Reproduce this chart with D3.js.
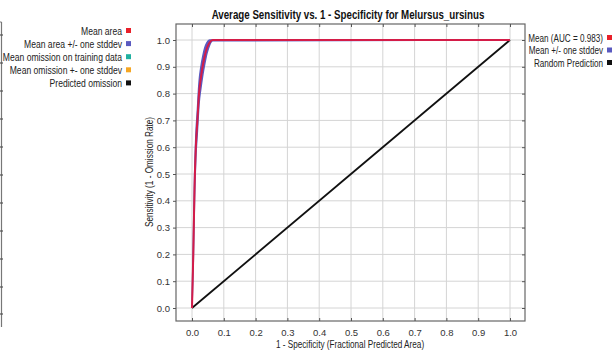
<!DOCTYPE html>
<html>
<head>
<meta charset="utf-8">
<script src="https://cdn.jsdelivr.net/npm/d3@7"></script>
<style>
  body { margin: 0; background: #fff; }
  svg { display: block; font-family: "Liberation Sans", Arial, sans-serif; }
</style>
</head>
<body>
<div id="chart"></div>
<script>
// ROC data
const fpr     = [0, 0.004, 0.008, 0.012, 0.017, 0.022, 0.028, 0.034, 0.040, 0.047, 0.055, 0.065, 1.0];
const meanTpr = [0, 0.20, 0.45, 0.60, 0.70, 0.80, 0.86, 0.905, 0.94, 0.97, 0.99, 1.0, 1.0];
const sdUpper = [0, 0.23, 0.49, 0.64, 0.74, 0.84, 0.90, 0.94, 0.97, 0.99, 1.0, 1.0, 1.0];
const sdLower = [0, 0.17, 0.41, 0.56, 0.66, 0.76, 0.82, 0.87, 0.91, 0.95, 0.98, 0.997, 1.0];
const randomX = [0, 1];
const randomY = [0, 1];
const tickValues = [0, 0.1, 0.2, 0.3, 0.4, 0.5, 0.6, 0.7, 0.8, 0.9, 1.0];

const leftLegend = [
    { label: "Mean area", color: "#e8202a" },
    { label: "Mean area +/- one stddev", color: "#5a5ac0" },
    { label: "Mean omission on training data", color: "#1fb0a0" },
    { label: "Mean omission +- one stddev", color: "#f5a623" },
    { label: "Predicted omission", color: "#111" }
];
const rightLegend = [
    { label: "Mean (AUC = 0.983)", color: "#e8202a" },
    { label: "Mean +/- one stddev", color: "#5a5ac0" },
    { label: "Random Prediction", color: "#111" }
];
// leftover edge of the neighbouring chart
const edgeTicks = [35, 63, 91, 119, 147, 175, 203, 231, 259, 287, 314];

const width = 615, height = 353;
const plot = { left: 176, right: 525, top: 24, bottom: 321 };
const narrow = 0.78; // squeeze text like the condensed font of the original

const svg = d3.select("#chart").append("svg")
    .attr("width", width)
    .attr("height", height);

const x = d3.scaleLinear().domain([0, 1]).range([192, 510]);
const y = d3.scaleLinear().domain([0, 1]).range([308, 40]);

// grid
svg.append("g").selectAll("line")
    .data(tickValues).enter().append("line")
    .attr("x1", d => x(d)).attr("x2", d => x(d))
    .attr("y1", plot.top).attr("y2", plot.bottom)
    .attr("stroke", "#d4d4d4").attr("stroke-width", 1);
svg.append("g").selectAll("line")
    .data(tickValues).enter().append("line")
    .attr("x1", plot.left).attr("x2", plot.right)
    .attr("y1", d => y(d)).attr("y2", d => y(d))
    .attr("stroke", "#d4d4d4").attr("stroke-width", 1);

// frame
svg.append("rect")
    .attr("x", plot.left).attr("y", plot.top)
    .attr("width", plot.right - plot.left).attr("height", plot.bottom - plot.top)
    .attr("fill", "none").attr("stroke", "#666").attr("stroke-width", 1.2);

// axes
svg.append("g")
    .attr("transform", `translate(0,${plot.bottom})`)
    .call(d3.axisBottom(x).tickValues(tickValues).tickFormat(d3.format(".1f")).tickSizeInner(-3).tickSizeOuter(0).tickPadding(8));
svg.append("g")
    .attr("transform", `translate(${plot.left},0)`)
    .call(d3.axisLeft(y).tickValues(tickValues).tickFormat(d3.format(".1f")).tickSize(3).tickSizeOuter(0).tickPadding(3));
svg.append("g")
    .attr("transform", `translate(0,${plot.top})`)
    .call(d3.axisTop(x).tickValues(tickValues).tickFormat("").tickSizeInner(-3).tickSizeOuter(0));
svg.append("g")
    .attr("transform", `translate(${plot.right},0)`)
    .call(d3.axisRight(y).tickValues(tickValues).tickFormat("").tickSizeInner(-3).tickSizeOuter(0));

svg.selectAll(".domain").remove();
svg.selectAll(".tick line").attr("stroke", "#555");
svg.selectAll(".tick text").attr("fill", "#333").style("font-size", "9.5px");

// random prediction
const pts = (xs, ys) => xs.map((d, i) => [d, ys[i]]);
const line = d3.line().x(d => x(d[0])).y(d => y(d[1]));

svg.append("path")
    .attr("d", line(pts(randomX, randomY)))
    .attr("fill", "none").attr("stroke", "#111").attr("stroke-width", 1.8);

// stddev band
const band = d3.area()
    .x(d => x(d[0]))
    .y0(d => y(d[1]))
    .y1(d => y(d[2]))
    .curve(d3.curveMonotoneX);
svg.append("path")
    .attr("d", band(fpr.map((d, i) => [d, sdLower[i], sdUpper[i]])))
    .attr("fill", "#5a5ac0").attr("stroke", "#5a5ac0").attr("stroke-width", 1.5);

// mean
svg.append("path")
    .attr("d", line.curve(d3.curveMonotoneX)(pts(fpr, meanTpr)))
    .attr("fill", "none").attr("stroke", "#d41c48").attr("stroke-width", 2);

// condensed text helper
function label(tx, ty, rot, txt, size, anchor, weight, squeeze) {
    const g = svg.append("g")
        .attr("transform", `translate(${tx},${ty}) rotate(${rot}) scale(${squeeze || narrow},1)`);
    return g.append("text")
        .attr("text-anchor", anchor)
        .style("font-size", size + "px")
        .style("font-weight", weight || "normal")
        .attr("fill", "#222")
        .text(txt);
}

label(348, 19, 0, "Average Sensitivity vs. 1 - Specificity for Melursus_ursinus", 12.5, "middle", "bold").attr("fill", "#111");
label(350, 348, 0, "1 - Specificity (Fractional Predicted Area)", 10.5, "middle");
label(153, 172, -90, "Sensitivity (1 - Omission Rate)", 10.5, "middle");

// legends
function legend(items, xr, y0, step, size, squeeze) {
    items.forEach((d, i) => {
        label(xr - 4, y0 + i * step + 3.5, 0, d.label, size, "end", "normal", squeeze);
        svg.append("rect")
            .attr("x", xr).attr("y", y0 + i * step - 3)
            .attr("width", 5).attr("height", 5)
            .attr("fill", d.color);
    });
}
legend(leftLegend, 126, 31, 13.1, 11, narrow);
legend(rightLegend, 607, 38, 12.5, 11, 0.74);

// cut-off border of the neighbouring chart on the left
svg.append("line")
    .attr("x1", 1.5).attr("x2", 1.5).attr("y1", 22).attr("y2", 327)
    .attr("stroke", "#777").attr("stroke-width", 1.2);
svg.append("line")
    .attr("x1", 0).attr("x2", 1.5).attr("y1", 22).attr("y2", 22)
    .attr("stroke", "#777");
svg.append("g").selectAll("line")
    .data(edgeTicks).enter().append("line")
    .attr("x1", 0).attr("x2", 3).attr("y1", d => d).attr("y2", d => d)
    .attr("stroke", "#555").attr("stroke-width", 1.2);
</script>
</body>
</html>
